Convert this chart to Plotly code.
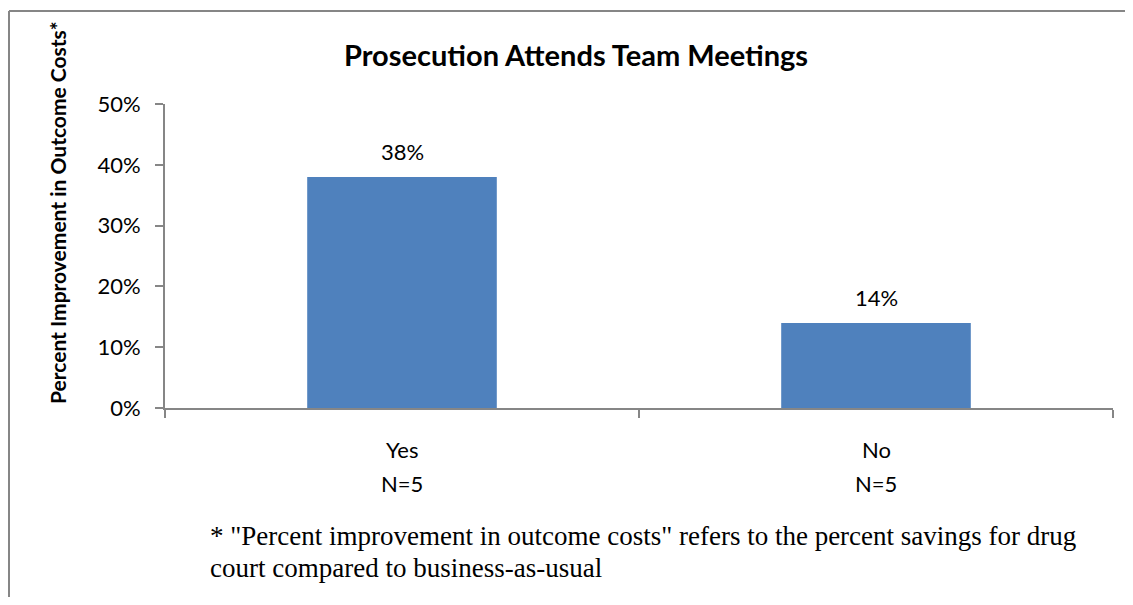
import plotly.graph_objects as go

categories = ["Yes", "No"]
sample_sizes = ["N=5", "N=5"]
values = [0.38, 0.14]
title_text = "Prosecution Attends Team Meetings"
y_title = "Percent Improvement in Outcome Costs*"
footnote_lines = ['* "Percent improvement in outcome costs" refers to the percent savings for drug',
                  'court compared to business-as-usual']

OFF = 8  # default page body margin
W, H = 1133 - 2 * OFF, 605 - 2 * OFF
L, T = 165 - OFF, 104 - OFF
R = W - (1113 - OFF)
B = H - (408 - OFF)
pw, ph = W - L - R, H - T - B

def px_x(p):  # screen pixel -> paper x
    return (p - OFF - L) / pw

def px_y(p):  # screen pixel -> paper y
    return (H - B - (p - OFF)) / ph

axis_col = "#868686"
font_sans = "Lato, 'Open Sans', sans-serif"
font_serif = "'Liberation Serif', 'Times New Roman', serif"

fig = go.Figure()
fig.add_trace(go.Bar(x=categories, y=values, marker=dict(color="#4F81BD", line=dict(width=0)),
                     width=0.4, hoverinfo="skip"))

annotations = []
for c, v in zip(categories, values):
    annotations.append(dict(x=c, y=v, xref="x", yref="y", text=f"{round(v*100)}%",
                            showarrow=False, yanchor="bottom", yshift=10,
                            font=dict(family=font_sans, size=22, color="black")))
for c, n in zip(categories, sample_sizes):
    annotations.append(dict(x=c, y=px_y(449), xref="x", yref="paper", text=c,
                            showarrow=False, yanchor="middle",
                            font=dict(family=font_sans, size=22, color="black")))
    annotations.append(dict(x=c, y=px_y(483), xref="x", yref="paper", text=n,
                            showarrow=False, yanchor="middle",
                            font=dict(family=font_sans, size=22, color="black")))
annotations.append(dict(x=px_x(576), y=px_y(54), xref="paper", yref="paper", text=f"<b>{title_text}</b>",
                        showarrow=False, xanchor="center", yanchor="middle",
                        font=dict(family=font_sans, size=29, color="black")))
annotations.append(dict(x=px_x(57), y=px_y(213), xref="paper", yref="paper", text=f"<b>{y_title}</b>",
                        showarrow=False, xanchor="center", yanchor="middle", textangle=-90,
                        font=dict(family=font_sans, size=21, color="black")))
for i, line in enumerate(footnote_lines):
    annotations.append(dict(x=px_x(208), y=px_y(536 + 32 * i), xref="paper", yref="paper", text=line,
                            showarrow=False, xanchor="left", yanchor="middle", align="left",
                            font=dict(family=font_serif, size=27, color="black")))

border = dict(color=axis_col, width=2)
fig.update_layout(
    width=W, height=H,
    margin=dict(l=L, r=R, t=T, b=B),
    paper_bgcolor="white", plot_bgcolor="white",
    showlegend=False,
    bargap=0.6,
    annotations=annotations,
    shapes=[
        dict(type="line", xref="paper", yref="paper", x0=px_x(9), x1=px_x(9),
             y0=px_y(640), y1=px_y(11), line=border, layer="below"),
        dict(type="line", xref="paper", yref="paper", x0=px_x(9), x1=px_x(1160),
             y0=px_y(11), y1=px_y(11), line=border, layer="below"),
    ],
    xaxis=dict(showline=True, linecolor=axis_col, linewidth=2, ticks="outside", ticklen=8,
               tickcolor=axis_col, tickwidth=2, tickson="boundaries", showticklabels=False,
               showgrid=False, zeroline=False, range=[-0.5, 1.5]),
    yaxis=dict(range=[0, 0.5], dtick=0.1, tickformat=".0%", showline=True, linecolor=axis_col,
               linewidth=2, ticks="outside", ticklen=8, tickcolor=axis_col, tickwidth=2,
               showgrid=False, zeroline=False, ticklabelstandoff=10,
               tickfont=dict(family=font_sans, size=22, color="black")),
)

fig.write_html("out.html")
